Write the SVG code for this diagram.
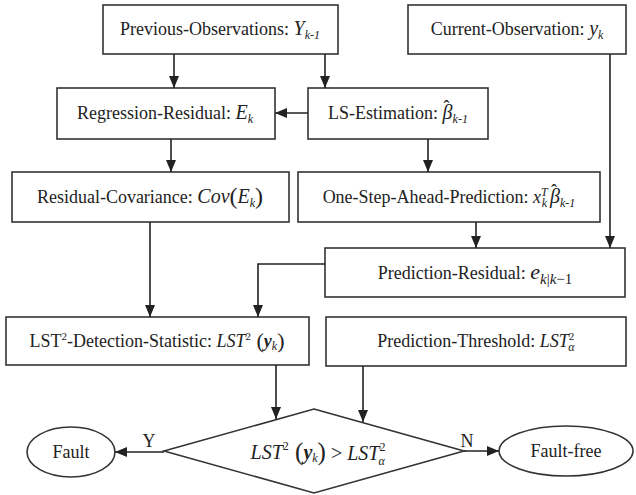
<svg xmlns="http://www.w3.org/2000/svg" width="636" height="495" viewBox="0 0 636 495">
<defs>
<marker id="ah" markerUnits="userSpaceOnUse" markerWidth="12" markerHeight="10" refX="12" refY="5" orient="auto">
<path d="M0,0 L12,5 L0,10 z" fill="#222"/>
</marker>
<style>
.box{fill:#fff;stroke:#333;stroke-width:1.6}
text{font-family:'Liberation Serif','Times New Roman',serif}
.t{font-size:18px;fill:#222;text-anchor:middle}
.i{font-style:italic}
.s{font-size:12px;font-style:italic}
.c line,.c path{stroke:#222;stroke-width:1.6;fill:none;marker-end:url(#ah)}
</style>
</defs>
<rect width="636" height="495" fill="#fff"/>

<g id="prev">
<rect class="box" x="103" y="5" width="235" height="49"/>
<text class="t" x="220" y="35">Previous-Observations: <tspan class="i" font-size="20">Y</tspan><tspan class="s" dy="4">k-1</tspan></text>
</g>
<g id="current">
<rect class="box" x="408" y="5" width="218" height="49"/>
<text class="t" x="517" y="35">Current-Observation: <tspan class="i" font-size="20">y</tspan><tspan class="s" dy="4">k</tspan></text>
</g>
<g id="regression">
<rect class="box" x="57" y="88" width="218" height="51"/>
<text class="t" x="165" y="119">Regression-Residual: <tspan class="i" font-size="20">E</tspan><tspan class="s" dy="4">k</tspan></text>
</g>
<g id="ls">
<rect class="box" x="308" y="88" width="180" height="51"/>
<text class="t" x="398" y="119">LS-Estimation: <tspan class="i" font-size="20">β</tspan><tspan font-size="18" dx="-9" dy="-6">ˆ</tspan><tspan class="s" dx="3" dy="10">k-1</tspan></text>
</g>
<g id="rescov">
<rect class="box" x="12" y="172" width="277" height="50"/>
<text class="t" x="150" y="203">Residual-Covariance: <tspan class="i" font-size="20">Cov</tspan><tspan font-size="24" dy="1">(</tspan><tspan class="i" font-size="20" dy="-1">E</tspan><tspan class="s" dy="4">k</tspan><tspan font-size="24" dy="-3">)</tspan></text>
</g>
<g id="onestep">
<rect class="box" x="298" y="172" width="302" height="50"/>
<text class="t" x="449" y="203">One-Step-Ahead-Prediction:  <tspan class="i">x</tspan><tspan class="s" font-size="11" dy="-7">T</tspan><tspan class="s" font-size="11" dx="-6" dy="11">k</tspan><tspan class="i" font-size="20" dx="3" dy="-4">β</tspan><tspan font-size="18" dx="-9" dy="-6">ˆ</tspan><tspan class="s" dx="3" dy="10">k-1</tspan></text>
</g>
<g id="predres">
<rect class="box" x="325" y="248" width="300" height="49"/>
<text class="t" x="475" y="279">Prediction-Residual: <tspan class="i" font-size="22">e</tspan><tspan font-size="15" dy="5"><tspan class="i">k</tspan>|<tspan class="i">k</tspan>−1</tspan></text>
</g>
<g id="lst">
<rect class="box" x="6" y="317" width="303" height="48"/>
<text class="t" x="157" y="347">LST<tspan font-size="11" dy="-7">2</tspan><tspan dy="7">-Detection-Statistic:  </tspan><tspan class="i">LST</tspan><tspan font-size="11" dy="-7">2</tspan><tspan font-size="22" dy="8"> (</tspan><tspan class="i" font-weight="bold" dy="-1">y</tspan><tspan class="s" dy="3">k</tspan><tspan font-size="22" dy="-2">)</tspan></text>
</g>
<g id="threshold">
<rect class="box" x="326" y="317" width="300" height="49"/>
<text class="t" x="476" y="347">Prediction-Threshold: <tspan class="i">LST</tspan><tspan font-size="11" dy="-7">2</tspan><tspan class="s" font-size="11" dx="-6" dy="11">α</tspan></text>
</g>
<g id="decision">
<polygon class="box" points="314,409 464,451 314,493 164,451"/>
<text class="t" x="318" y="459" style="font-size:20px"><tspan class="i">LST</tspan><tspan font-size="12" dy="-9">2</tspan><tspan font-size="25" dy="10"> (</tspan><tspan class="i" font-weight="bold" dy="-1">y</tspan><tspan class="s" dy="3">k</tspan><tspan font-size="25" dy="-2">)</tspan> &gt; <tspan class="i">LST</tspan><tspan font-size="12" dy="-9">2</tspan><tspan class="s" font-size="12" dx="-7" dy="14">α</tspan></text>
</g>
<g id="fault">
<ellipse class="box" cx="71" cy="452" rx="44" ry="25"/>
<text class="t" x="71" y="458">Fault</text>
</g>
<g id="faultfree">
<ellipse class="box" cx="566" cy="451" rx="67" ry="25"/>
<text class="t" x="566" y="457">Fault-free</text>
</g>

<g id="connectors" class="c">
<line x1="174" y1="54" x2="174" y2="88"/>
<line x1="325" y1="54" x2="325" y2="88"/>
<line x1="308" y1="113" x2="275" y2="113"/>
<line x1="171" y1="139" x2="171" y2="172"/>
<line x1="428" y1="139" x2="428" y2="172"/>
<line x1="610" y1="54" x2="610" y2="248"/>
<line x1="476" y1="222" x2="476" y2="248"/>
<line x1="150" y1="222" x2="150" y2="317"/>
<path d="M325,264 H258 V317"/>
<line x1="276" y1="365" x2="276" y2="419"/>
<line x1="363" y1="366" x2="363" y2="422"/>
<line x1="164" y1="452" x2="115" y2="452"/>
<line x1="464" y1="451" x2="499" y2="451"/>
<text class="t" x="149" y="447">Y</text>
<text class="t" x="467" y="447">N</text>
</g>
</svg>
